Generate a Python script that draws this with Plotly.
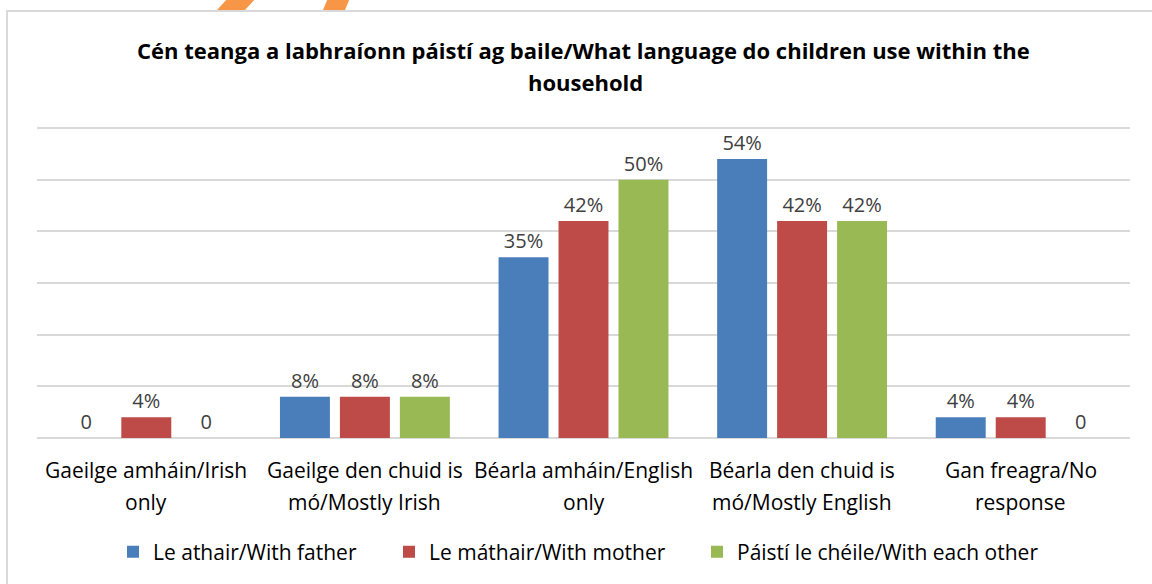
import plotly.graph_objects as go

# ---- data ----
categories = [
    "Gaeilge amháin/Irish only",
    "Gaeilge den chuid is mó/Mostly Irish",
    "Béarla amháin/English only",
    "Béarla den chuid is mó/Mostly English",
    "Gan freagra/No response",
]
cat_line1 = ["Gaeilge amháin/Irish", "Gaeilge den chuid is", "Béarla amháin/English",
             "Béarla den chuid is", "Gan freagra/No"]
cat_line2 = ["only", "mó/Mostly Irish", "only", "mó/Mostly English", "response"]

series_names = ["Le athair/With father", "Le máthair/With mother", "Páistí le chéile/With each other"]
father = [0, 8, 35, 54, 4]
mother = [4, 8, 42, 42, 4]
each_other = [0, 8, 50, 42, 0]
series_values = [father, mother, each_other]
colors = ["#4A7EBB", "#BE4B48", "#98B954"]

title_line1 = "Cén teanga a labhraíonn páistí ag baile/What language do children use within the"
title_line2 = "household"

FONT = "Open Sans"
W, H = 1152, 584
BASE = 438          # pixel row of the 0 line
TOP60 = 128         # pixel row of the 60% gridline
L, R, T, B = 37, 22, 120, H - BASE
PW, PH = W - L - R, H - T - B
YMAX = 60 * PH / (BASE - TOP60)


def px(x):
    return (x - L) / PW


def py(y):
    return (H - B - y) / PH


legend_keys = ["legend", "legend2", "legend3"]
legend_text_x = [153, 429, 737]

fig = go.Figure()
for name, vals, col, lg in zip(series_names, series_values, colors, legend_keys):
    fig.add_trace(go.Bar(
        x=categories, y=vals, name=name, legend=lg,
        marker=dict(color=col, line=dict(width=0)),
        text=[f"{v}%" if v else "0" for v in vals],
        textposition="outside",
        textfont=dict(family=FONT, size=20, color="#404040"),
        cliponaxis=False,
    ))

annotations = []
for c, l1, l2 in zip(categories, cat_line1, cat_line2):
    annotations.append(dict(x=c, xref="x", y=py(470), yref="paper", text=l1, showarrow=False,
                            font=dict(family=FONT, size=21, color="#000000"), yanchor="middle"))
    annotations.append(dict(x=c, xref="x", y=py(502), yref="paper", text=l2, showarrow=False,
                            font=dict(family=FONT, size=21, color="#000000"), yanchor="middle"))
annotations.append(dict(x=px(583), xref="paper", y=py(50), yref="paper", text="<b>" + title_line1 + "</b>",
                        showarrow=False, font=dict(family=FONT, size=22, color="#000000"), yanchor="middle"))
annotations.append(dict(x=px(585), xref="paper", y=py(82), yref="paper", text="<b>" + title_line2 + "</b>",
                        showarrow=False, font=dict(family=FONT, size=22, color="#000000"), yanchor="middle"))

shapes = [
    dict(type="rect", xref="paper", yref="paper", x0=px(7), x1=px(1165), y0=py(640), y1=py(11),
         line=dict(color="#D9D9D9", width=2), fillcolor="rgba(0,0,0,0)", layer="below"),
    dict(type="path", xref="paper", yref="paper",
         path=f"M{px(217)},{py(10)} L{px(245)},{py(10)} L{px(256)},{py(-2)} L{px(228)},{py(-2)} Z",
         fillcolor="#F79646", line=dict(width=0)),
    dict(type="path", xref="paper", yref="paper",
         path=f"M{px(323)},{py(10)} L{px(345)},{py(10)} L{px(350)},{py(-2)} L{px(328)},{py(-2)} Z",
         fillcolor="#F79646", line=dict(width=0)),
]

legend_layouts = {}
for lg, tx in zip(legend_keys, legend_text_x):
    legend_layouts[lg] = dict(orientation="h", x=px(tx - 40), xanchor="left", y=py(552), yanchor="middle",
                              font=dict(family=FONT, size=21, color="#000000"), itemwidth=30,
                              bgcolor="rgba(0,0,0,0)", borderwidth=0)

fig.update_layout(
    width=W, height=H,
    margin=dict(l=L, r=R, t=T, b=B),
    paper_bgcolor="white", plot_bgcolor="white",
    barmode="group", bargap=0.177, bargroupgap=0.167,
    font=dict(family=FONT, size=20, color="#000000"),
    showlegend=True,
    annotations=annotations,
    shapes=shapes,
    xaxis=dict(showticklabels=False, ticks="", showline=False, showgrid=False),
    yaxis=dict(range=[0, YMAX], tick0=0, dtick=10, showticklabels=False, ticks="", showgrid=True,
               gridcolor="#D9D9D9", gridwidth=1.5, zeroline=True, zerolinecolor="#D9D9D9",
               zerolinewidth=1.5, showline=False),
    **legend_layouts,
)

fig.write_html("out.html", config={"displayModeBar": False},
               post_script="document.body.style.margin='0';")
